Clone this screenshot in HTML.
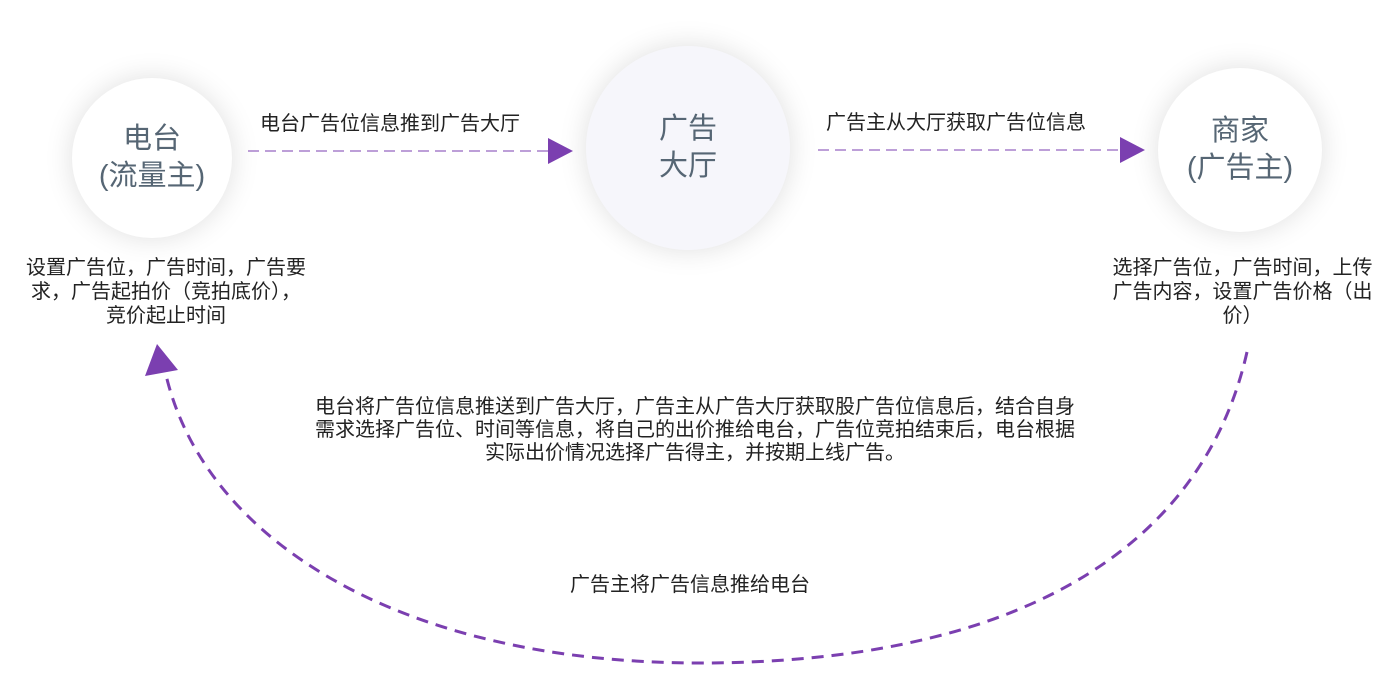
<!DOCTYPE html>
<html><head><meta charset="utf-8"><style>
body{margin:0;width:1400px;height:700px;background:#fff;position:relative;overflow:hidden;font-family:"Liberation Sans","Noto Sans CJK SC",sans-serif;color:#222}
.c{position:absolute;border-radius:50%;background:#fff;box-shadow:0 0 28px rgba(0,0,0,0.13);display:flex;align-items:center;justify-content:center;text-align:center;color:#566674;font-size:29px;line-height:37px}
.t{position:absolute;font-size:20px;line-height:24px;text-align:center;white-space:nowrap}
</style></head><body>
<div class="c" style="left:72px;top:78px;width:160px;height:160px">电台<br>(流量主)</div>
<div class="c" style="left:586px;top:46px;width:204px;height:204px;background:#f6f6fb">广告<br>大厅</div>
<div class="c" style="left:1158px;top:68px;width:164px;height:164px">商家<br>(广告主)</div>
<svg width="1400" height="700" style="position:absolute;left:0;top:0">
<line x1="248" y1="151" x2="550" y2="151" stroke="#7b3fb0" stroke-width="1" stroke-dasharray="11,6"/>
<polygon points="548,138 573,151 548,164" fill="#7b3fb0"/>
<line x1="818" y1="150" x2="1122" y2="150" stroke="#7b3fb0" stroke-width="1" stroke-dasharray="11,6"/>
<polygon points="1120,137 1145,150 1120,163" fill="#7b3fb0"/>
<path d="M1247,352 C1200,560 1000,663 700,663 C400,663 205,540 166,375" fill="none" stroke="#7b3fb0" stroke-width="3" stroke-dasharray="12,8"/>
<polygon points="157,344 145,376 178,370" fill="#7b3fb0"/>
</svg>
<div class="t" style="left:240px;top:112px;width:300px">电台广告位信息推到广告大厅</div>
<div class="t" style="left:806px;top:111px;width:300px">广告主从大厅获取广告位信息</div>
<div class="t" style="left:16px;top:256px;width:300px">设置广告位，广告时间，广告要<br>求，广告起拍价（竞拍底价），<br>竞价起止时间</div>
<div class="t" style="left:1095px;top:256px;width:295px">选择广告位，广告时间，上传<br>广告内容，设置广告价格（出<br>价）</div>
<div class="t" style="left:290px;top:396px;width:810px;line-height:23px">电台将广告位信息推送到广告大厅，广告主从广告大厅获取股广告位信息后，结合自身<br>需求选择广告位、时间等信息，将自己的出价推给电台，广告位竞拍结束后，电台根据<br>实际出价情况选择广告得主，并按期上线广告。</div>
<div class="t" style="left:540px;top:573px;width:300px">广告主将广告信息推给电台</div>
</body></html>
